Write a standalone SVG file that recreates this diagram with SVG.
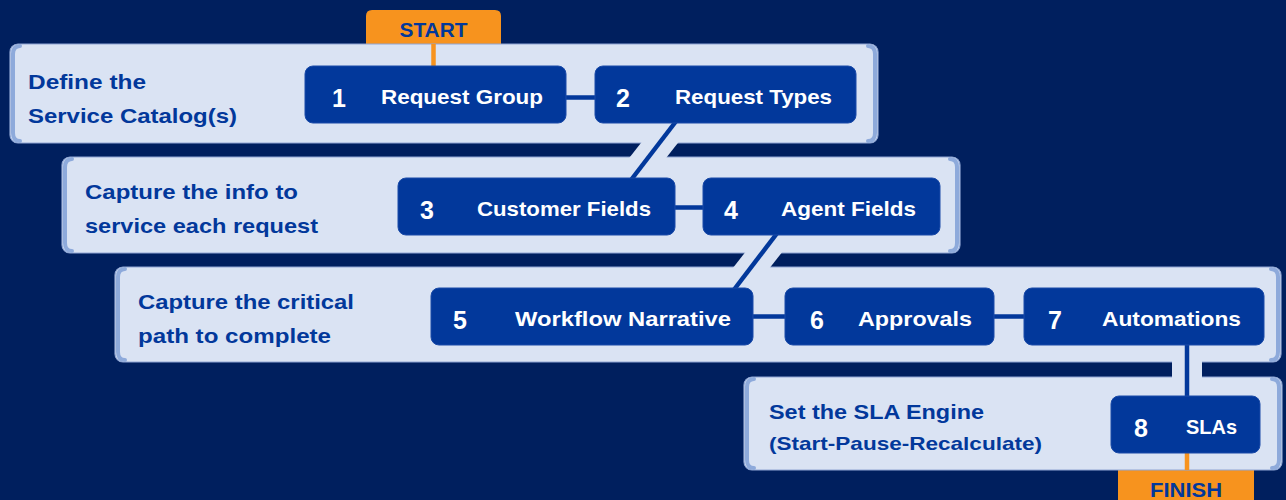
<svg xmlns="http://www.w3.org/2000/svg" width="1286" height="500" viewBox="0 0 1286 500">
<style>
.panel{fill:#dae3f3;stroke:#8fa6d4;stroke-width:1.2}
.brk{fill:none;stroke:#8eaadb;stroke-width:4;stroke-linecap:round}
.node{fill:#02389b;stroke:#1a4aa8;stroke-width:1}
.ptxt{font-family:"Liberation Sans",Arial,sans-serif;font-weight:bold;font-size:21px;fill:#02389b}
.num{font-family:"Liberation Sans",Arial,sans-serif;font-weight:bold;font-size:25px;fill:#ffffff}
.lbl{font-family:"Liberation Sans",Arial,sans-serif;font-weight:bold;font-size:21px;fill:#ffffff}
.tab{fill:#f7931e}
.tabtxt{font-family:"Liberation Sans",Arial,sans-serif;font-weight:bold;font-size:21px;fill:#02389b}
.halo{stroke:#dae3f3;fill:none}
.line{stroke:#02389b;stroke-width:4.5;fill:none}
.oline{stroke:#f7931e;stroke-width:4.5;fill:none}
</style>
<rect width="1286" height="500" fill="#001f5e"/>

<g id="start">
<path class="tab" d="M366,44 V16 Q366,10 372,10 H495 Q501,10 501,16 V44 Z"/>
<text class="tabtxt" x="433.5" y="37" text-anchor="middle" textLength="68" lengthAdjust="spacingAndGlyphs">START</text>
</g>
<g id="finish">
<rect class="tab" x="1118" y="470" width="136" height="32"/>
<text class="tabtxt" x="1186" y="497" text-anchor="middle" textLength="72" lengthAdjust="spacingAndGlyphs">FINISH</text>
</g>

<g id="panel1">
<rect class="panel" x="10" y="44" width="868" height="99" rx="8"/>
<path class="brk" d="M20,46 Q13,46 13,54 V133 Q13,141 20,141"/>
<path class="brk" d="M868,46 Q875,46 875,54 V133 Q875,141 868,141"/>
<text class="ptxt" x="28" y="89" textLength="118" lengthAdjust="spacingAndGlyphs">Define the</text>
<text class="ptxt" x="28" y="123" textLength="209" lengthAdjust="spacingAndGlyphs">Service Catalog(s)</text>
</g>
<g id="panel2">
<rect class="panel" x="62" y="157" width="898" height="96" rx="8"/>
<path class="brk" d="M72,159 Q65,159 65,167 V243 Q65,251 72,251"/>
<path class="brk" d="M950,159 Q957,159 957,167 V243 Q957,251 950,251"/>
<text class="ptxt" x="85" y="199" textLength="213" lengthAdjust="spacingAndGlyphs">Capture the info to</text>
<text class="ptxt" x="85" y="233" textLength="233" lengthAdjust="spacingAndGlyphs">service each request</text>
</g>
<g id="panel3">
<rect class="panel" x="115" y="267" width="1166" height="95" rx="8"/>
<path class="brk" d="M125,269 Q118,269 118,277 V352 Q118,360 125,360"/>
<path class="brk" d="M1271,269 Q1278,269 1278,277 V352 Q1278,360 1271,360"/>
<text class="ptxt" x="138" y="309" textLength="216" lengthAdjust="spacingAndGlyphs">Capture the critical</text>
<text class="ptxt" x="138" y="343" textLength="193" lengthAdjust="spacingAndGlyphs">path to complete</text>
</g>
<g id="panel4">
<rect class="panel" x="744" y="377" width="538" height="93" rx="8"/>
<path class="brk" d="M754,379 Q747,379 747,387 V460 Q747,468 754,468"/>
<path class="brk" d="M1272,379 Q1279,379 1279,387 V460 Q1279,468 1272,468"/>
<text class="ptxt" x="769" y="419" textLength="215" lengthAdjust="spacingAndGlyphs">Set the SLA Engine</text>
<text class="ptxt" x="769" y="450" style="font-size:19px" textLength="273" lengthAdjust="spacingAndGlyphs">(Start-Pause-Recalculate)</text>
</g>

<g id="connectors">
<line class="halo" x1="690" y1="104" x2="617" y2="197" stroke-width="29"/>
<line class="halo" x1="792" y1="216" x2="720" y2="308" stroke-width="29"/>
<line class="halo" x1="1187" y1="340" x2="1187" y2="400" stroke-width="30"/>
<line class="oline" x1="433.5" y1="44" x2="433.5" y2="68"/>
<line class="oline" x1="1187" y1="450" x2="1187" y2="470"/>
<line class="line" x1="560" y1="97.5" x2="600" y2="97.5"/>
<line class="line" x1="677" y1="120" x2="631" y2="180"/>
<line class="line" x1="670" y1="207.5" x2="708" y2="207.5"/>
<line class="line" x1="778" y1="232" x2="733" y2="291"/>
<line class="line" x1="748" y1="316.5" x2="790" y2="316.5"/>
<line class="line" x1="989" y1="316.5" x2="1029" y2="316.5"/>
<line class="line" x1="1187" y1="340" x2="1187" y2="400"/>
</g>

<g id="n1">
<rect class="node" x="305" y="66" width="261" height="57" rx="8"/>
<text class="num" x="332" y="107">1</text>
<text class="lbl" x="381" y="104" textLength="162" lengthAdjust="spacingAndGlyphs">Request Group</text>
</g>
<g id="n2">
<rect class="node" x="595" y="66" width="261" height="57" rx="8"/>
<text class="num" x="616" y="107">2</text>
<text class="lbl" x="675" y="104" textLength="157" lengthAdjust="spacingAndGlyphs">Request Types</text>
</g>
<g id="n3">
<rect class="node" x="398" y="178" width="277" height="57" rx="8"/>
<text class="num" x="420" y="219">3</text>
<text class="lbl" x="477" y="216" textLength="174" lengthAdjust="spacingAndGlyphs">Customer Fields</text>
</g>
<g id="n4">
<rect class="node" x="703" y="178" width="237" height="57" rx="8"/>
<text class="num" x="724" y="219">4</text>
<text class="lbl" x="781" y="216" textLength="135" lengthAdjust="spacingAndGlyphs">Agent Fields</text>
</g>
<g id="n5">
<rect class="node" x="431" y="288" width="322" height="57" rx="8"/>
<text class="num" x="453" y="329">5</text>
<text class="lbl" x="515" y="326" textLength="216" lengthAdjust="spacingAndGlyphs">Workflow Narrative</text>
</g>
<g id="n6">
<rect class="node" x="785" y="288" width="209" height="57" rx="8"/>
<text class="num" x="810" y="329">6</text>
<text class="lbl" x="858" y="326" textLength="114" lengthAdjust="spacingAndGlyphs">Approvals</text>
</g>
<g id="n7">
<rect class="node" x="1024" y="288" width="240" height="57" rx="8"/>
<text class="num" x="1048" y="329">7</text>
<text class="lbl" x="1102" y="326" textLength="139" lengthAdjust="spacingAndGlyphs">Automations</text>
</g>
<g id="n8">
<rect class="node" x="1111" y="396" width="149" height="57" rx="8"/>
<text class="num" x="1134" y="437">8</text>
<text class="lbl" x="1186" y="434" textLength="51" lengthAdjust="spacingAndGlyphs">SLAs</text>
</g>
</svg>
